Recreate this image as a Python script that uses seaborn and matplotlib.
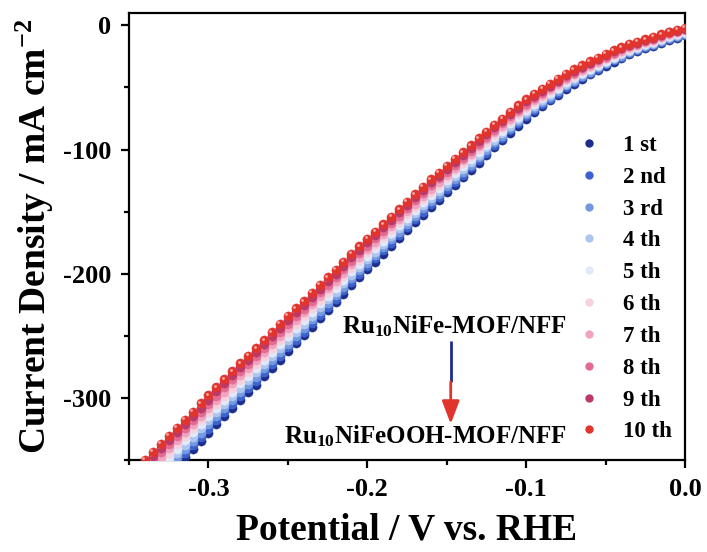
import matplotlib
matplotlib.use("Agg")
import matplotlib.pyplot as plt
import matplotlib.transforms as mtransforms
from matplotlib.lines import Line2D
from matplotlib.patches import FancyArrowPatch
from matplotlib.ticker import MultipleLocator, FormatStrFormatter
import pandas as pd
import seaborn as sns

# potential sweep (V vs. RHE), 5 mV steps
potential = [
    0.000, -0.005, -0.010, -0.015, -0.020, -0.025, -0.030, -0.035, -0.040, -0.045,
    -0.050, -0.055, -0.060, -0.065, -0.070, -0.075, -0.080, -0.085, -0.090, -0.095,
    -0.100, -0.105, -0.110, -0.115, -0.120, -0.125, -0.130, -0.135, -0.140, -0.145,
    -0.150, -0.155, -0.160, -0.165, -0.170, -0.175, -0.180, -0.185, -0.190, -0.195,
    -0.200, -0.205, -0.210, -0.215, -0.220, -0.225, -0.230, -0.235, -0.240, -0.245,
    -0.250, -0.255, -0.260, -0.265, -0.270, -0.275, -0.280, -0.285, -0.290, -0.295,
    -0.300, -0.305, -0.310, -0.315, -0.320, -0.325, -0.330, -0.335, -0.340, -0.345,
    -0.350,
]

# current density (mA cm-2) for each cycle
j_1st = [
    -8, -9.8, -11.6, -13.9, -16.2, -18.5, -20.9, -23.3, -26.2, -29.1,
    -32.5, -36, -39.5, -43, -47, -51, -55.7, -60.4, -65.1, -69.8,
    -75, -80.7, -86.4, -92.6, -98.3, -104.5, -110.5, -116.5, -122.5, -128.5,
    -134.5, -140.3, -146.1, -152.4, -158.7, -165, -171.3, -177.6, -183.9, -190.2,
    -196.5, -202.9, -209.3, -216.2, -223.1, -229.5, -235.9, -242.8, -249.7, -256.1,
    -262.5, -269.2, -275.9, -282.6, -289.3, -295.5, -301.6, -308.2, -314.8, -321.4,
    -328, -334.6, -341.2, -347.8, -354.4, -361, -367.6, -374.2, -380.8, -387.4,
    -394,
]
j_2nd = [
    -7.3, -9.1, -10.9, -13.1, -15.4, -17.7, -20, -22.4, -25.2, -28.1,
    -31.4, -34.9, -38.3, -41.8, -45.7, -49.7, -54.3, -58.9, -63.5, -68.2,
    -73.3, -78.9, -84.5, -90.6, -96.3, -102.4, -108.3, -114.3, -120.2, -126.2,
    -132.1, -137.9, -143.6, -149.9, -156.2, -162.4, -168.7, -175, -181.2, -187.5,
    -193.8, -200.1, -206.5, -213.3, -220.2, -226.6, -232.9, -239.8, -246.6, -253,
    -259.3, -266, -272.7, -279.4, -286, -292.2, -298.3, -304.9, -311.5, -318.1,
    -324.7, -331.3, -337.8, -344.4, -351, -357.6, -364.2, -370.8, -377.4, -384,
    -390.6,
]
j_3rd = [
    -6.7, -8.4, -10.1, -12.4, -14.6, -16.8, -19.1, -21.5, -24.3, -27.1,
    -30.4, -33.8, -37.2, -40.6, -44.4, -48.3, -52.9, -57.4, -62, -66.5,
    -71.6, -77.1, -82.6, -88.7, -94.2, -100.3, -106.2, -112.1, -117.9, -123.8,
    -129.7, -135.5, -141.2, -147.4, -153.7, -159.9, -166.1, -172.4, -178.6, -184.8,
    -191.1, -197.4, -203.7, -210.5, -217.3, -223.6, -229.9, -236.7, -243.5, -249.9,
    -256.2, -262.8, -269.5, -276.1, -282.8, -288.9, -295, -301.6, -308.2, -314.8,
    -321.3, -327.9, -334.5, -341.1, -347.6, -354.2, -360.8, -367.4, -374, -380.5,
    -387.1,
]
j_4th = [
    -6, -7.7, -9.4, -11.6, -13.8, -16, -18.3, -20.5, -23.3, -26.1,
    -29.3, -32.7, -36, -39.3, -43.2, -47, -51.5, -55.9, -60.4, -64.9,
    -69.8, -75.3, -80.8, -86.7, -92.2, -98.2, -104, -109.8, -115.7, -121.5,
    -127.3, -133, -138.7, -144.9, -151.1, -157.3, -163.5, -169.7, -175.9, -182.1,
    -188.3, -194.6, -200.9, -207.6, -214.4, -220.7, -226.9, -233.7, -240.5, -246.7,
    -253, -259.6, -266.3, -272.9, -279.5, -285.7, -291.7, -298.3, -304.9, -311.4,
    -318, -324.6, -331.1, -337.7, -344.3, -350.8, -357.4, -364, -370.5, -377.1,
    -383.7,
]
j_5th = [
    -5.3, -7, -8.7, -10.8, -13, -15.2, -17.4, -19.6, -22.3, -25.1,
    -28.3, -31.6, -34.8, -38.1, -41.9, -45.7, -50.1, -54.4, -58.8, -63.2,
    -68.1, -73.5, -78.9, -84.8, -90.2, -96.1, -101.8, -107.6, -113.4, -119.2,
    -124.9, -130.6, -136.3, -142.4, -148.6, -154.8, -160.9, -167.1, -173.3, -179.4,
    -185.6, -191.8, -198.1, -204.8, -211.5, -217.7, -223.9, -230.7, -237.4, -243.6,
    -249.8, -256.4, -263.1, -269.7, -276.3, -282.4, -288.4, -295, -301.6, -308.1,
    -314.7, -321.2, -327.8, -334.3, -340.9, -347.4, -354, -360.6, -367.1, -373.7,
    -380.2,
]
j_6th = [
    -4.7, -6.3, -7.9, -10.1, -12.2, -14.3, -16.5, -18.7, -21.4, -24,
    -27.2, -30.4, -33.7, -36.9, -40.6, -44.3, -48.6, -53, -57.3, -61.6,
    -66.4, -71.7, -77, -82.8, -88.1, -93.9, -99.7, -105.4, -111.1, -116.8,
    -122.6, -128.2, -133.8, -140, -146.1, -152.2, -158.4, -164.5, -170.6, -176.8,
    -182.9, -189.1, -195.2, -201.9, -208.6, -214.8, -221, -227.6, -234.3, -240.5,
    -246.7, -253.3, -259.8, -266.4, -273, -279.1, -285.2, -291.7, -298.2, -304.8,
    -311.3, -317.9, -324.4, -331, -337.5, -344.1, -350.6, -357.1, -363.7, -370.2,
    -376.8,
]
j_7th = [
    -4, -5.6, -7.2, -9.3, -11.4, -13.5, -15.6, -17.8, -20.4, -23,
    -26.2, -29.3, -32.5, -35.7, -39.3, -43, -47.2, -51.5, -55.7, -59.9,
    -64.7, -69.9, -75.1, -80.9, -86.1, -91.8, -97.5, -103.2, -108.8, -114.5,
    -120.2, -125.8, -131.4, -137.5, -143.6, -149.7, -155.8, -161.9, -168, -174.1,
    -180.2, -186.3, -192.4, -199.1, -205.7, -211.8, -218, -224.6, -231.2, -237.4,
    -243.5, -250.1, -256.6, -263.2, -269.8, -275.8, -281.9, -288.4, -294.9, -301.5,
    -308, -314.5, -321.1, -327.6, -334.1, -340.7, -347.2, -353.7, -360.3, -366.8,
    -373.3,
]
j_8th = [
    -3.3, -4.9, -6.5, -8.5, -10.6, -12.7, -14.8, -16.8, -19.4, -22,
    -25.1, -28.2, -31.3, -34.4, -38.1, -41.7, -45.8, -50, -54.1, -58.3,
    -63, -68.1, -73.3, -78.9, -84.1, -89.7, -95.3, -100.9, -106.6, -112.2,
    -117.8, -123.3, -128.9, -135, -141, -147.1, -153.2, -159.2, -165.3, -171.4,
    -177.4, -183.5, -189.6, -196.2, -202.8, -208.9, -215, -221.6, -228.2, -234.2,
    -240.3, -246.9, -253.4, -260, -266.5, -272.6, -278.6, -285.1, -291.6, -298.1,
    -304.7, -311.2, -317.7, -324.2, -330.8, -337.3, -343.8, -350.3, -356.8, -363.4,
    -369.9,
]
j_9th = [
    -2.7, -4.2, -5.7, -7.8, -9.8, -11.8, -13.9, -15.9, -18.5, -21,
    -24.1, -27.1, -30.2, -33.2, -36.8, -40.3, -44.4, -48.5, -52.6, -56.6,
    -61.2, -66.3, -71.4, -77, -82, -87.6, -93.2, -98.7, -104.3, -109.8,
    -115.4, -120.9, -126.5, -132.5, -138.5, -144.6, -150.6, -156.6, -162.7, -168.7,
    -174.7, -180.8, -186.8, -193.4, -199.9, -205.9, -212, -218.5, -225.1, -231.1,
    -237.2, -243.7, -250.2, -256.7, -263.3, -269.3, -275.3, -281.8, -288.3, -294.8,
    -301.3, -307.8, -314.4, -320.9, -327.4, -333.9, -340.4, -346.9, -353.4, -359.9,
    -366.4,
]
j_10th = [
    -2, -3.5, -5, -7, -9, -11, -13, -15, -17.5, -20,
    -23, -26, -29, -32, -35.5, -39, -43, -47, -51, -55,
    -59.5, -64.5, -69.5, -75, -80, -85.5, -91, -96.5, -102, -107.5,
    -113, -118.5, -124, -130, -136, -142, -148, -154, -160, -166,
    -172, -178, -184, -190.5, -197, -203, -209, -215.5, -222, -228,
    -234, -240.5, -247, -253.5, -260, -266, -272, -278.5, -285, -291.5,
    -298, -304.5, -311, -317.5, -324, -330.5, -337, -343.5, -350, -356.5,
    -363,
]

cycle_labels = ["1 st", "2 nd", "3 rd", "4 th", "5 th", "6 th", "7 th", "8 th", "9 th", "10 th"]
cycle_colors = ["#1c2d8c", "#3d62cc", "#7499e0", "#adc6ef", "#e1eaf9",
                "#f6d2df", "#f1a3bf", "#e26b93", "#b93a6a", "#e1342c"]
cycle_data = [j_1st, j_2nd, j_3rd, j_4th, j_5th, j_6th, j_7th, j_8th, j_9th, j_10th]

records = []
for label, currents in zip(cycle_labels, cycle_data):
    assert len(currents) == len(potential), label
    for v, j in zip(potential, currents):
        records.append({"cycle": label, "potential": v, "current": j})
df = pd.DataFrame(records)

sns.set_style("ticks")
plt.rcParams["font.family"] = ["Liberation Serif", "DejaVu Serif"]
plt.rcParams["font.weight"] = "bold"
plt.rcParams["text.color"] = "black"
plt.rcParams["axes.labelcolor"] = "black"
plt.rcParams["xtick.color"] = "black"
plt.rcParams["ytick.color"] = "black"
plt.rcParams["axes.unicode_minus"] = False
plt.rcParams["mathtext.fontset"] = "custom"
plt.rcParams["mathtext.rm"] = "Liberation Serif:bold"
plt.rcParams["mathtext.it"] = "Liberation Serif:bold:italic"
plt.rcParams["mathtext.bf"] = "Liberation Serif:bold"
plt.rcParams["mathtext.default"] = "rm"

fig = plt.figure(figsize=(7.07, 5.52), dpi=100)
ax = fig.add_axes([0.1825, 0.1667, 0.7864, 0.8098])

shine = mtransforms.offset_copy(ax.transData, fig=fig, x=-1.1, y=1.1, units="points")

for k, (label, color) in enumerate(zip(cycle_labels, cycle_colors)):
    sub = df[df["cycle"] == label]
    sns.scatterplot(data=sub, x="potential", y="current", ax=ax, color=color,
                    s=44, edgecolor=color, linewidth=0.3, zorder=3 + 2 * k, legend=False)
    sns.scatterplot(data=sub, x="potential", y="current", ax=ax, color="white",
                    s=4, linewidth=0, alpha=0.6, zorder=4 + 2 * k, legend=False,
                    transform=shine)

ax.set_xlim(-0.35, 0.0)
ax.set_ylim(-350, 10)
ax.xaxis.set_major_locator(MultipleLocator(0.1))
ax.xaxis.set_minor_locator(MultipleLocator(0.05))
ax.xaxis.set_major_formatter(FormatStrFormatter("%.1f"))
ax.yaxis.set_major_locator(MultipleLocator(100))
ax.yaxis.set_minor_locator(MultipleLocator(50))

for side in ["top", "right", "bottom", "left"]:
    ax.spines[side].set_linewidth(1.6)
    ax.spines[side].set_color("black")
ax.tick_params(which="major", direction="out", length=6, width=1.6, labelsize=19, pad=7)
ax.tick_params(which="minor", direction="out", length=3.5, width=1.6)
ax.tick_params(top=False, right=False, which="both")

ax.set_xlabel("Potential / V vs. RHE", fontsize=27, fontweight="bold", labelpad=8)
ax.set_ylabel("Current Density / mA cm$^{-2}$", fontsize=27, fontweight="bold", labelpad=5)

# composition change annotation
arrow_x = -0.1475
arrow_top, arrow_mid, arrow_tip = -254, -287, -321
ax.plot([arrow_x, arrow_x], [arrow_top, arrow_mid], color="#1c2d8c", lw=2, zorder=30,
        solid_capstyle="butt")
ax.add_patch(FancyArrowPatch((arrow_x, arrow_mid), (arrow_x, arrow_tip),
                             arrowstyle="-|>,head_length=1.0,head_width=0.38",
                             mutation_scale=14, color="#e1342c", lw=2,
                             shrinkA=0, shrinkB=0, zorder=30))
ax.text(-0.0745, -242, "Ru$_{10}$NiFe-MOF/NFF", ha="right", va="center",
        fontsize=18, fontweight="bold", zorder=30)
ax.text(-0.0745, -331, "Ru$_{10}$NiFeOOH-MOF/NFF", ha="right", va="center",
        fontsize=18, fontweight="bold", zorder=30)

handles = [Line2D([], [], ls="", marker="o", ms=6, color=c, markeredgewidth=0)
           for c in cycle_colors]
ax.legend(handles, cycle_labels, loc="upper left", bbox_to_anchor=(0.806, 0.727),
          frameon=False, handlelength=1.0, handletextpad=1.0,
          labelspacing=0.47, borderpad=0, borderaxespad=0,
          prop={"weight": "bold", "size": 16.5})

fig.savefig("out.png", dpi=100)
